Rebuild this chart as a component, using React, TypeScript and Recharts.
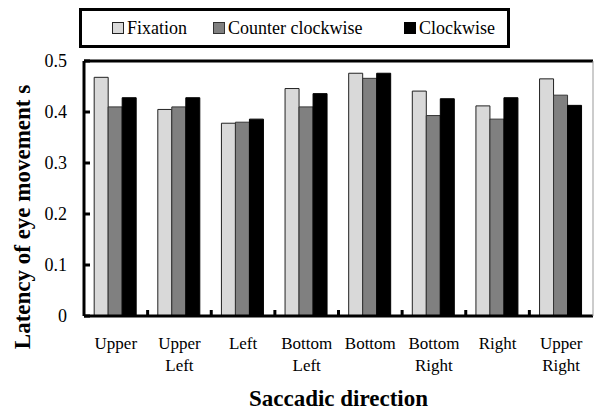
import React from 'react'
import {
  BarChart, Bar, XAxis, YAxis, ReferenceLine, Label,
} from 'recharts'

// ── data ─────────────────────────────────────────────────────
const categories = ['Upper', 'Upper\nLeft', 'Left', 'Bottom\nLeft', 'Bottom', 'Bottom\nRight', 'Right', 'Upper\nRight']
const fixation = [0.468, 0.405, 0.378, 0.446, 0.476, 0.441, 0.412, 0.465]
const counterClockwise = [0.410, 0.410, 0.380, 0.410, 0.466, 0.393, 0.386, 0.433]
const clockwise = [0.428, 0.428, 0.386, 0.436, 0.476, 0.426, 0.428, 0.413]
const yTicks = [0, 0.1, 0.2, 0.3, 0.4, 0.5]

const series = [
  { key: 'fixation', name: 'Fixation', fill: '#D9D9D9', stroke: '#222222', left: 30 },
  { key: 'ccw', name: 'Counter clockwise', fill: '#808080', stroke: '#333333', left: 131 },
  { key: 'cw', name: 'Clockwise', fill: '#000000', stroke: '#000000', left: 322 },
]

const data = categories.map((c, i) => ({
  direction: c,
  fixation: fixation[i],
  ccw: counterClockwise[i],
  cw: clockwise[i],
}))

const FONT = "'Liberation Serif', 'Times New Roman', serif"

// etiquetas de dos líneas + marcas entre categorías
function DirectionTick({ x = 0, y = 0, index = 0, payload }: {
  x?: number; y?: number; index?: number; payload?: { value: string; offset?: number }
}) {
  const lines = String(payload?.value ?? '').split('\n')
  const half = payload?.offset ?? 31.8
  return (
    <g>
      {index > 0 && (
        <line x1={x - half} x2={x - half} y1={y} y2={y - 6} stroke="#000" strokeWidth={3} />
      )}
      <text x={x} y={y} textAnchor="middle" style={{ fontFamily: FONT, fontSize: 17 }} fill="#000">
        {lines.map((l, i) => (
          <tspan key={i} x={x} dy={i === 0 ? 33 : 22}>{l}</tspan>
        ))}
      </text>
    </g>
  )
}

function LatencyTick({ x = 0, y = 0, payload }: { x?: number; y?: number; payload?: { value: number } }) {
  const v = payload?.value ?? 0
  return (
    <text x={x} y={y} dy={6} textAnchor="end" style={{ fontFamily: FONT, fontSize: 18 }} fill="#000">
      {v === 0 ? '0' : v.toFixed(1)}
    </text>
  )
}

function LegendBox() {
  return (
    <div style={{
      position: 'absolute', left: 79, top: 8, width: 425, height: 34,
      border: '3px solid #000', fontFamily: FONT, fontSize: 18, color: '#000',
    }}>
      {series.map((s) => (
        <div key={s.key} style={{
          position: 'absolute', left: s.left, top: 0, height: 34,
          display: 'flex', alignItems: 'center', whiteSpace: 'nowrap',
        }}>
          <span style={{ width: 10, height: 10, background: s.fill, border: `1px solid ${s.stroke}`, marginRight: 3, display: 'inline-block' }} />
          <span style={{ fontFamily: FONT, fontSize: 18 }}>{s.name}</span>
        </div>
      ))}
    </div>
  )
}

export default function App() {
  return (
    <div style={{ position: 'absolute', left: 0, top: 0, width: 595, height: 412, background: '#fff', fontFamily: FONT }}>
      <BarChart
        width={595}
        height={412}
        data={data}
        margin={{ top: 61, right: 0, left: 0, bottom: 0 }}
        barCategoryGap="16%"
        barGap={0}
        style={{ fontFamily: FONT }}
      >
        <XAxis
          dataKey="direction"
          tick={<DirectionTick />}
          tickLine={false}
          tickSize={0}
          tickMargin={0}
          axisLine={{ stroke: '#000', strokeWidth: 3 }}
          interval={0}
          height={96}
        >
          <Label
            value="Saccadic direction"
            position="insideBottom"
            offset={6}
            style={{ fontFamily: FONT, fontSize: 23, fontWeight: 700, fill: '#000' }}
          />
        </XAxis>
        <YAxis
          width={84}
          domain={[0, 0.5]}
          ticks={yTicks}
          tickSize={-6}
          tickMargin={23}
          tickLine={{ stroke: '#000', strokeWidth: 3 }}
          axisLine={{ stroke: '#000', strokeWidth: 3 }}
          tick={<LatencyTick />}
        >
          <Label
            content={() => (
              <text
                x={22}
                y={217}
                transform="rotate(-90 22 217)"
                textAnchor="middle"
                dominantBaseline="central"
                style={{ fontFamily: FONT, fontSize: 23, fontWeight: 700 }}
                fill="#000"
              >
                Latency of eye movement  s
              </text>
            )}
          />
        </YAxis>
        <YAxis
          yAxisId="right"
          orientation="right"
          width={2}
          domain={[0, 0.5]}
          tick={false}
          tickLine={false}
          axisLine={{ stroke: '#999', strokeWidth: 1 }}
        />
        <ReferenceLine y={0.5} stroke="#000" strokeWidth={3} />
        {series.map((s) => (
          <Bar
            key={s.key}
            dataKey={s.key}
            name={s.name}
            fill={s.fill}
            stroke={s.stroke}
            strokeWidth={1}
            isAnimationActive={false}
          />
        ))}
      </BarChart>
      <LegendBox />
    </div>
  )
}
